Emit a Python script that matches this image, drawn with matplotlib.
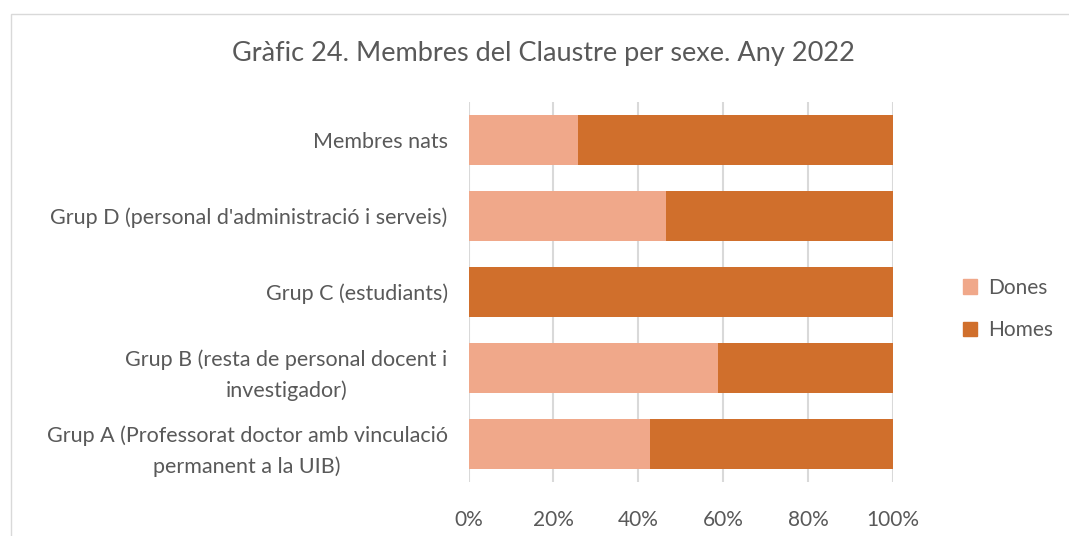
import matplotlib.pyplot as plt
from matplotlib.patches import Rectangle, Patch

plt.rcParams['font.family'] = ['Lato', 'DejaVu Sans']

# data (bottom to top, as drawn)
categories = [
    "Grup A (Professorat doctor amb vinculació\npermanent a la UIB)",
    "Grup B (resta de personal docent i\ninvestigador)",
    "Grup C (estudiants)",
    "Grup D (personal d'administració i serveis)",
    "Membres nats",
]
dones = [42.7, 58.7, 0.0, 46.5, 25.8]
homes = [100 - d for d in dones]
xticks = [0, 20, 40, 60, 80, 100]
xtick_labels = ["0%", "20%", "40%", "60%", "80%", "100%"]

c_dones = "#F0A88A"
c_homes = "#D06F2C"
txt = "#595959"
grid = "#D9D9D9"

W, H = 1069, 536
fig = plt.figure(figsize=(W / 100, H / 100), dpi=100)

# chart frame (cropped at right and bottom)
fig.patches.append(Rectangle((11 / W, -0.05), 1.1, 1 - 14 / H + 0.05,
                             transform=fig.transFigure, fill=False,
                             edgecolor=grid, linewidth=1))

ax = fig.add_axes([468.5 / W, 1 - 482 / H, (893 - 468.5) / W, (482 - 102) / H])
y = range(len(categories))
ax.barh(y, dones, height=0.66, color=c_dones, label="Dones", zorder=2)
ax.barh(y, homes, left=dones, height=0.66, color=c_homes, label="Homes", zorder=2)

ax.set_xlim(0, 100)
ax.set_ylim(-0.5, len(categories) - 0.5)
ax.set_xticks(xticks)
ax.set_xticklabels(xtick_labels, fontsize=15)
ax.set_yticks(list(y))
ax.set_yticklabels(categories, multialignment="center", fontsize=15.5)
for t in ax.get_yticklabels():
    t.set_linespacing(1.6)
ax.tick_params(axis="both", length=0, colors=txt)
ax.tick_params(axis="x", pad=20)
ax.tick_params(axis="y", pad=15)
ax.grid(axis="x", color=grid, linewidth=1.5, zorder=0)
for s in ax.spines.values():
    s.set_visible(False)

fig.text(543 / W, 1 - 54 / H, "Gràfic 24. Membres del Claustre per sexe. Any 2022",
         ha="center", va="center", fontsize=19.5, color=txt)

handles = [Patch(color=c_dones, label="Dones"), Patch(color=c_homes, label="Homes")]
fig.legend(handles=handles, loc="center left", bbox_to_anchor=(944 / W, 1 - 309 / H),
           frameon=False, fontsize=15, labelcolor=txt, handlelength=0.7,
           handleheight=0.7, handletextpad=0.5, labelspacing=1.1)

plt.savefig("out.png", dpi=100)
